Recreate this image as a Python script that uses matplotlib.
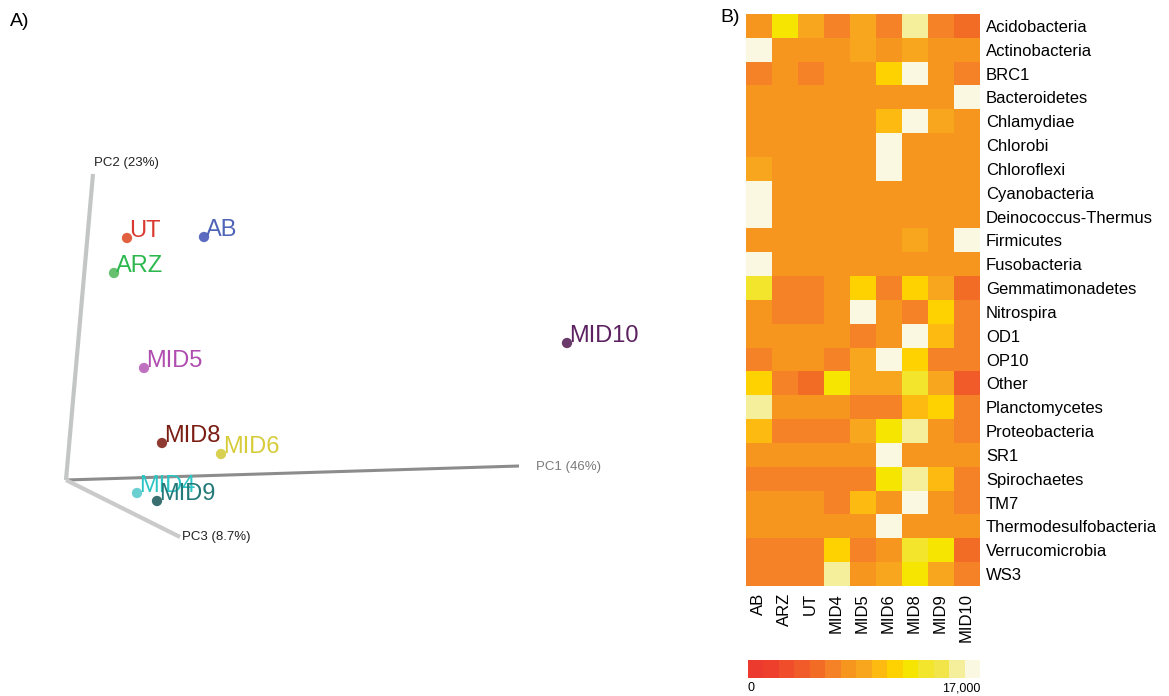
import matplotlib
matplotlib.use("Agg")
import matplotlib.pyplot as plt
from matplotlib.colors import ListedColormap, BoundaryNorm
import numpy as np

plt.rcParams['font.family'] = ['Liberation Sans', 'DejaVu Sans']

# ---------------- Panel A: PCoA ordination (projected 3D view) ----------------
samples = ["UT", "AB", "ARZ", "MID5", "MID8", "MID6", "MID4", "MID9", "MID10"]
# projected sample scores (view coordinates, origin at the PC axes origin)
proj_x = [61, 138, 48, 78, 96, 155, 71, 91, 501]
proj_y = [242, 243, 207, 112, 37, 26, -13, -21, 137]
dot_colors = ["#E0603F", "#5C6BC0", "#66C070", "#C070C0", "#8E3A30",
              "#D8D050", "#6ACFD0", "#3A6F6F", "#6A3A6A"]
text_colors = ["#D93A30", "#4F63B8", "#2DB84D", "#B04CB0", "#7A1E14",
               "#D6CC3A", "#2CC5C5", "#237878", "#5C2160"]

# PC axis end points in the same view coordinates
axis_names = ["PC1 (46%)", "PC2 (23%)", "PC3 (8.7%)"]
axis_end_x = [453, 27, 114]
axis_end_y = [14, 306, -57]
axis_colors = ["#8C8C8C", "#C4C6C6", "#CACACA"]
axis_widths = [2.2, 3.0, 3.0]
axis_label_colors = ["#7A7A7A", "#222222", "#222222"]

# ---------------- Panel B: phylum abundance heatmap ----------------
phyla = ["Acidobacteria", "Actinobacteria", "BRC1", "Bacteroidetes", "Chlamydiae",
         "Chlorobi", "Chloroflexi", "Cyanobacteria", "Deinococcus-Thermus",
         "Firmicutes", "Fusobacteria", "Gemmatimonadetes", "Nitrospira", "OD1",
         "OP10", "Other", "Planctomycetes", "Proteobacteria", "SR1",
         "Spirochaetes", "TM7", "Thermodesulfobacteria", "Verrucomicrobia", "WS3"]
sites = ["AB", "ARZ", "UT", "MID4", "MID5", "MID6", "MID8", "MID9", "MID10"]
abundance = [
    [7400, 11900, 8500, 6200, 8500, 6200, 15300, 6200, 5100],
    [16400, 7400, 7400, 7400, 8500, 7400, 8500, 7400, 7400],
    [6200, 7400, 6200, 7400, 7400, 10800, 16400, 7400, 6200],
    [7400, 7400, 7400, 7400, 7400, 7400, 7400, 7400, 16400],
    [7400, 7400, 7400, 7400, 7400, 9600, 16400, 8500, 7400],
    [7400, 7400, 7400, 7400, 7400, 16400, 7400, 7400, 7400],
    [8500, 7400, 7400, 7400, 7400, 16400, 7400, 7400, 7400],
    [16400, 7400, 7400, 7400, 7400, 7400, 7400, 7400, 7400],
    [16400, 7400, 7400, 7400, 7400, 7400, 7400, 7400, 7400],
    [7400, 7400, 7400, 7400, 7400, 7400, 8500, 7400, 16400],
    [16400, 7400, 7400, 7400, 7400, 7400, 7400, 7400, 7400],
    [13000, 6200, 6200, 7400, 10800, 6200, 10800, 8500, 5100],
    [7400, 6200, 6200, 7400, 16400, 7400, 6200, 10800, 6200],
    [7400, 7400, 7400, 7400, 6200, 7400, 16400, 9600, 6200],
    [6200, 7400, 7400, 6200, 8500, 16400, 10800, 6200, 6200],
    [10800, 6200, 5100, 11900, 8500, 8500, 13000, 8500, 4000],
    [15300, 7400, 7400, 7400, 6200, 6200, 9600, 10800, 6200],
    [9600, 6200, 6200, 6200, 8500, 11900, 15300, 7400, 6200],
    [7400, 7400, 7400, 7400, 7400, 16400, 7400, 7400, 7400],
    [6200, 6200, 6200, 6200, 6200, 11900, 15300, 9600, 6200],
    [7400, 7400, 7400, 6200, 9600, 7400, 16400, 7400, 6200],
    [7400, 7400, 7400, 7400, 7400, 16400, 7400, 7400, 7400],
    [6200, 6200, 6200, 10800, 6200, 7400, 13000, 11900, 5100],
    [6200, 6200, 6200, 15300, 7400, 8500, 11900, 8500, 6200],
]
scale_min, scale_max = 0, 17000
level_colors = ['#ED3A2F', '#EE3F2D', '#F04D2B', '#F15B29', '#F36C26',
                '#F58226', '#F7961F', '#F8A61E', '#FDBB12', '#FED100',
                '#F6E500', '#F2E52C', '#F1E54A', '#F5EE9A', '#FBF8E1']

fig = plt.figure(figsize=(11.69, 6.96), dpi=100)

# ---- A ----
axA = fig.add_axes([0, 0, 725 / 1169, 1])
axA.set_xlim(-66, 659)
axA.set_ylim(-216, 480)
axA.axis("off")

for ex, ey, c, lw in zip(axis_end_x, axis_end_y, axis_colors, axis_widths):
    axA.plot([0, ex], [0, ey], color=c, lw=lw, solid_capstyle="butt", zorder=1)

label_offsets = [(17, -1), (1, 8), (2, 0)]
label_va = ["center", "baseline", "center"]
for name, ex, ey, (dx, dy), va, tc in zip(axis_names, axis_end_x, axis_end_y,
                                          label_offsets, label_va, axis_label_colors):
    axA.text(ex + dx, ey + dy, name, fontsize=9.5, color=tc, ha="left", va=va)

axA.scatter(proj_x, proj_y, s=55, c=dot_colors, edgecolors="none", zorder=3)
for name, x, y, tc in zip(samples, proj_x, proj_y, text_colors):
    axA.text(x + 2, y + 1, name, fontsize=17, color=tc, ha="left",
             va="baseline", zorder=4)

fig.text(10 / 1169, 1 - 22 / 696, "A)", fontsize=14, ha="left", va="center")
fig.text(720 / 1169, 1 - 18 / 696, "B)", fontsize=14, ha="left", va="center")

# ---- B ----
cmap = ListedColormap(level_colors)
bounds = np.linspace(scale_min, scale_max, len(level_colors) + 1)
norm = BoundaryNorm(bounds, cmap.N)

axB = fig.add_axes([746 / 1169, 1 - 586 / 696, 233 / 1169, 572 / 696])
im = axB.imshow(np.array(abundance), cmap=cmap, norm=norm, aspect="auto",
                interpolation="nearest")
axB.set_xticks(range(len(sites)))
axB.set_xticklabels(sites, rotation=90, fontsize=12)
axB.set_yticks(range(len(phyla)))
axB.set_yticklabels(phyla, fontsize=12)
axB.yaxis.tick_right()
axB.tick_params(length=0, pad=5)
for s in axB.spines.values():
    s.set_visible(False)

cax = fig.add_axes([748 / 1169, 1 - 678 / 696, 232 / 1169, 18 / 696])
cb = fig.colorbar(im, cax=cax, orientation="horizontal", ticks=[scale_min, scale_max])
cb.outline.set_visible(False)
cb.ax.minorticks_off()
cb.ax.set_xticklabels(["0", "17,000"], fontsize=9)
cb.ax.tick_params(which="both", length=0, pad=3)
tl = cb.ax.get_xticklabels()
tl[0].set_ha("left")
tl[1].set_ha("right")

fig.savefig("out.png", dpi=100)
